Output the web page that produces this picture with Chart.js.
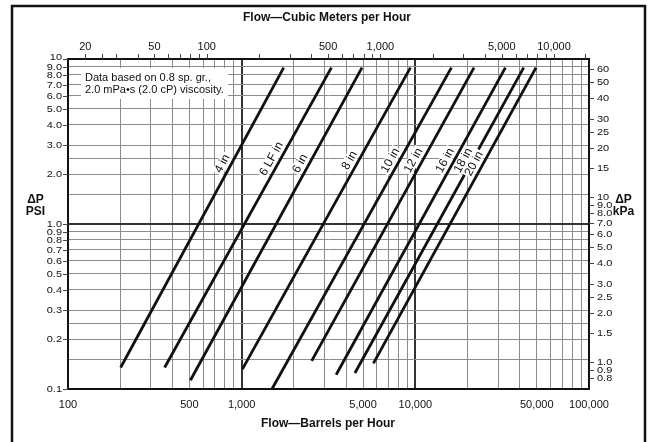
<!DOCTYPE html>
<html>
<head>
<meta charset="utf-8">
<script src="https://cdn.jsdelivr.net/npm/chart.js@4.4.1/dist/chart.umd.min.js"></script>
<style>
html, body { margin: 0; padding: 0; background: #fff; }
#wrap { position: relative; width: 649px; height: 442px; }
</style>
</head>
<body>
<div id="wrap"><canvas id="flow_chart" width="649" height="442"></canvas></div>
<script>
// pipe lines (barrels per hour, psi)
const pipe_sizes = ['4 in', '6 LF in', '6 in', '8 in', '10 in', '12 in', '16 in', '18 in', '20 in'];
const flow_low  = [201, 360, 507, 1010, 1495, 2530, 3500, 4490, 5735];
const psi_low   = [0.135, 0.135, 0.113, 0.132, 0.100, 0.148, 0.122, 0.125, 0.143];
const flow_high = [1746, 3286, 4930, 9370, 16130, 21770, 33000, 42070, 49530];
const psi_high  = [8.86, 8.86, 8.86, 8.86, 8.86, 8.86, 8.86, 8.86, 8.86];
const label_psi = [2.2, 2.35, 2.2, 2.3, 2.3, 2.3, 2.3, 2.3, 2.2];

// axes
const bbl_labels = [100, 500, 1000, 5000, 10000, 50000, 100000];
const bbl_grid = [200, 300, 400, 500, 600, 700, 800, 900, 1000,
                  2000, 3000, 4000, 5000, 6000, 7000, 8000, 9000, 10000,
                  20000, 30000, 40000, 50000, 60000, 70000, 80000, 90000];
const m3_labels = [20, 50, 100, 500, 1000, 5000, 10000];
const m3_ticks = [20, 25, 30, 40, 50, 60, 70, 80, 90, 100, 200, 300, 400, 500, 600, 700, 800, 900, 1000,
                  2000, 3000, 4000, 5000, 6000, 7000, 8000, 9000, 10000, 15000];
const psi_labels = [10, 9, 8, 7, 6, 5, 4, 3, 2, 1, 0.9, 0.8, 0.7, 0.6, 0.5, 0.4, 0.3, 0.2, 0.1];
const psi_grid = [0.15, 0.2, 0.25, 0.3, 0.4, 0.5, 0.6, 0.7, 0.8, 0.9, 1, 1.5, 2, 2.5, 3, 4, 5, 6, 7, 8, 9];
const kpa_labels = [60, 50, 40, 30, 25, 20, 15, 10, 9, 8, 7, 6, 5, 4, 3, 2.5, 2, 1.5, 1, 0.9, 0.8];

const BBL_PER_M3 = 6.2898;
const KPA_PER_PSI = 6.895;
const FONT = "'Liberation Sans', Arial, Helvetica, sans-serif";

function fmt(v){
    if(v >= 1000) return v.toLocaleString('en-US');
    return String(v);
}
function fmtDec(v){
    if(v >= 10) return String(v);
    if(v >= 1) return v.toFixed(1);
    return String(v);
}
function isDecade(v){
    const l = Math.log10(v);
    return Math.abs(l - Math.round(l)) < 1e-9;
}
// the side scale numbers are squat in the original, so squeeze them a bit
function squatText(ctx, text, x, y){
    ctx.save();
    ctx.translate(x, y);
    ctx.scale(1, 0.78);
    ctx.fillText(text, 0, 0);
    ctx.restore();
}

const datasets = pipe_sizes.map((name, i) => ({
    label: name,
    data: [{x: flow_low[i], y: psi_low[i]}, {x: flow_high[i], y: psi_high[i]}],
    showLine: true,
    borderColor: '#111',
    borderWidth: 2.8,
    pointRadius: 0,
    borderCapStyle: 'butt'
}));

const decorPlugin = {
    id: 'decor',
    beforeDatasetsDraw(chart){
        const ctx = chart.ctx;
        // note box covers grid
        ctx.save();
        ctx.fillStyle = '#fff';
        ctx.fillRect(81, 68, 147, 31);
        ctx.restore();
    },
    afterDatasetsDraw(chart){
        const ctx = chart.ctx;
        const xs = chart.scales.x, ys = chart.scales.y;
        // line labels
        ctx.save();
        ctx.font = '12px ' + FONT;
        ctx.textAlign = 'center';
        ctx.textBaseline = 'middle';
        pipe_sizes.forEach((name, i) => {
            const x1 = xs.getPixelForValue(flow_low[i]), y1 = ys.getPixelForValue(psi_low[i]);
            const x2 = xs.getPixelForValue(flow_high[i]), y2 = ys.getPixelForValue(psi_high[i]);
            const ang = Math.atan2(y2 - y1, x2 - x1);
            const t = (Math.log10(label_psi[i]) - Math.log10(psi_low[i])) /
                      (Math.log10(psi_high[i]) - Math.log10(psi_low[i]));
            const q = Math.pow(10, Math.log10(flow_low[i]) + t * (Math.log10(flow_high[i]) - Math.log10(flow_low[i])));
            const px = xs.getPixelForValue(q), py = ys.getPixelForValue(label_psi[i]);
            ctx.save();
            ctx.translate(px, py);
            ctx.rotate(ang);
            const w = ctx.measureText(name).width;
            ctx.fillStyle = '#fff';
            ctx.fillRect(-w / 2 - 1.5, -14, w + 3, 11.5);
            ctx.fillStyle = '#111';
            ctx.fillText(name, 0, -8);
            ctx.restore();
        });
        ctx.restore();
    },
    afterDraw(chart){
        const ctx = chart.ctx;
        const a = chart.chartArea;
        const xs = chart.scales.x, ys = chart.scales.y;
        ctx.save();
        // plot frame
        ctx.strokeStyle = '#111';
        ctx.lineWidth = 2;
        ctx.strokeRect(a.left, a.top, a.right - a.left, a.bottom - a.top);

        // outer border (no bottom edge)
        ctx.lineWidth = 2.5;
        ctx.beginPath();
        ctx.moveTo(12, 442);
        ctx.lineTo(12, 6);
        ctx.lineTo(645, 6);
        ctx.lineTo(645, 442);
        ctx.stroke();

        ctx.fillStyle = '#111';
        ctx.strokeStyle = '#444';
        ctx.lineWidth = 1;

        // bottom labels: barrels per hour
        ctx.font = '11px ' + FONT;
        ctx.textAlign = 'center';
        ctx.textBaseline = 'middle';
        bbl_labels.forEach(v => {
            ctx.fillText(fmt(v), xs.getPixelForValue(v), a.bottom + 16);
        });

        // top ticks and labels: cubic meters per hour
        m3_ticks.forEach(v => {
            const px = Math.round(xs.getPixelForValue(v * BBL_PER_M3)) + 0.5;
            ctx.beginPath();
            ctx.moveTo(px, a.top - 5);
            ctx.lineTo(px, a.top);
            ctx.stroke();
        });
        m3_labels.forEach(v => {
            ctx.fillText(fmt(v), xs.getPixelForValue(v * BBL_PER_M3), a.top - 12);
        });

        // left ticks and labels: psi
        ctx.textAlign = 'right';
        psi_labels.forEach(v => {
            const py = Math.round(ys.getPixelForValue(v)) + 0.5;
            ctx.beginPath();
            ctx.moveTo(a.left - 5, py);
            ctx.lineTo(a.left, py);
            ctx.stroke();
            squatText(ctx, fmtDec(v), a.left - 6, py - (v === 10 ? 2 : 0));
        });

        // right ticks and labels: kPa
        ctx.textAlign = 'left';
        kpa_labels.forEach(v => {
            const py = Math.round(ys.getPixelForValue(v / KPA_PER_PSI)) + 0.5;
            ctx.beginPath();
            ctx.moveTo(a.right, py);
            ctx.lineTo(a.right + 5, py);
            ctx.stroke();
            squatText(ctx, fmtDec(v), a.right + 8, py + 0.5);
        });

        // axis titles
        ctx.font = 'bold 12px ' + FONT;
        ctx.textAlign = 'center';
        ctx.fillText('Flow\u2014Cubic Meters per Hour', 327, 18);
        ctx.fillText('Flow\u2014Barrels per Hour', 328, 424);
        ctx.fillText('\u0394P', 35.5, 200);
        ctx.fillText('PSI', 35.5, 211.5);
        ctx.fillText('\u0394P', 623.5, 199.5);
        ctx.fillText('kPa', 623.5, 212);

        // note
        ctx.font = '11px ' + FONT;
        ctx.textAlign = 'left';
        ctx.fillText('Data based on 0.8 sp. gr.,', 85, 78);
        ctx.fillText('2.0 mPa\u2022s (2.0 cP) viscosity.', 85, 89.5);
        ctx.restore();
    }
};

const ctx = document.getElementById('flow_chart').getContext('2d');
const flow_chart = new Chart(ctx, {
    type: 'scatter',
    data: { datasets: datasets },
    options: {
        responsive: false,
        animation: false,
        devicePixelRatio: 1,
        layout: { padding: { left: 68, right: 60, top: 59, bottom: 53 } },
        plugins: { legend: { display: false }, tooltip: { enabled: false } },
        scales: {
            x: {
                type: 'logarithmic',
                min: 100,
                max: 100000,
                afterBuildTicks: scale => { scale.ticks = bbl_grid.map(v => ({value: v})); },
                ticks: { display: false },
                border: { display: false },
                grid: {
                    drawTicks: false,
                    color: c => isDecade(c.tick.value) ? '#333' : '#8c8c8c',
                    lineWidth: c => isDecade(c.tick.value) ? 2 : 1
                }
            },
            y: {
                type: 'logarithmic',
                min: 0.1,
                max: 10,
                afterBuildTicks: scale => { scale.ticks = psi_grid.map(v => ({value: v})); },
                ticks: { display: false },
                border: { display: false },
                grid: {
                    drawTicks: false,
                    color: c => isDecade(c.tick.value) ? '#333' : '#8c8c8c',
                    lineWidth: c => isDecade(c.tick.value) ? 2 : 1
                }
            }
        }
    },
    plugins: [decorPlugin]
});
</script>
</body>
</html>
